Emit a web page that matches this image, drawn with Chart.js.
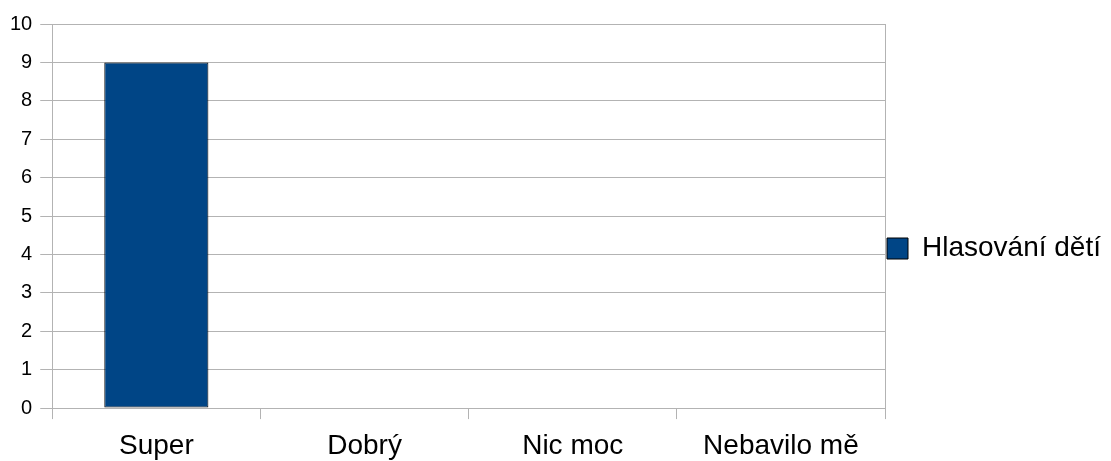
<!DOCTYPE html>
<html>
<head>
<meta charset="utf-8">
<script src="https://cdn.jsdelivr.net/npm/chart.js@4/dist/chart.umd.min.js"></script>
<style>
  html, body { margin: 0; padding: 0; background: #fff; }
  #wrap { width: 1111px; height: 461px; }
</style>
</head>
<body>
<div id="wrap"><canvas id="bars"></canvas></div>
<script>
const categories = ['Super', 'Dobrý', 'Nic moc', 'Nebavilo mě'];
const votes = [9, 0, 0, 0];
const seriesName = 'Hlasování dětí';

const gridGray = '#b3b3b3';

new Chart(document.getElementById('bars'), {
  type: 'bar',
  data: {
    labels: categories,
    datasets: [{
      label: seriesName,
      data: votes,
      backgroundColor: '#004586',
      borderColor: '#000000',
      borderWidth: 1,
      borderSkipped: false,
      barPercentage: 0.5,
      categoryPercentage: 1.0
    }]
  },
  options: {
    responsive: true,
    maintainAspectRatio: false,
    animation: false,
    layout: { padding: { top: 24, left: 2, right: 0, bottom: -12 } },
    plugins: {
      tooltip: { enabled: false },
      legend: {
        position: 'right',
        labels: {
          color: '#000',
          font: { family: 'Liberation Sans', size: 28 },
          boxWidth: 21,
          boxHeight: 21,
          padding: 2
        }
      }
    },
    scales: {
      x: {
        grid: {
          offset: true,
          // only the outer frame lines run through the plot, inner ones are just ticks
          color: ctx => (ctx.type === 'scale' || ctx.index === 0) ? gridGray : 'rgba(0,0,0,0)',
          tickColor: gridGray,
          tickLength: 11
        },
        border: { color: gridGray },
        ticks: {
          color: '#000',
          font: { family: 'Liberation Sans', size: 28, lineHeight: 0.64 },
          padding: 18
        }
      },
      y: {
        min: 0,
        max: 10,
        grid: { color: gridGray, tickLength: 12 },
        border: { color: gridGray },
        ticks: {
          stepSize: 1,
          color: '#000',
          font: { family: 'Liberation Sans', size: 20 },
          padding: 8
        }
      }
    }
  }
});
</script>
</body>
</html>
